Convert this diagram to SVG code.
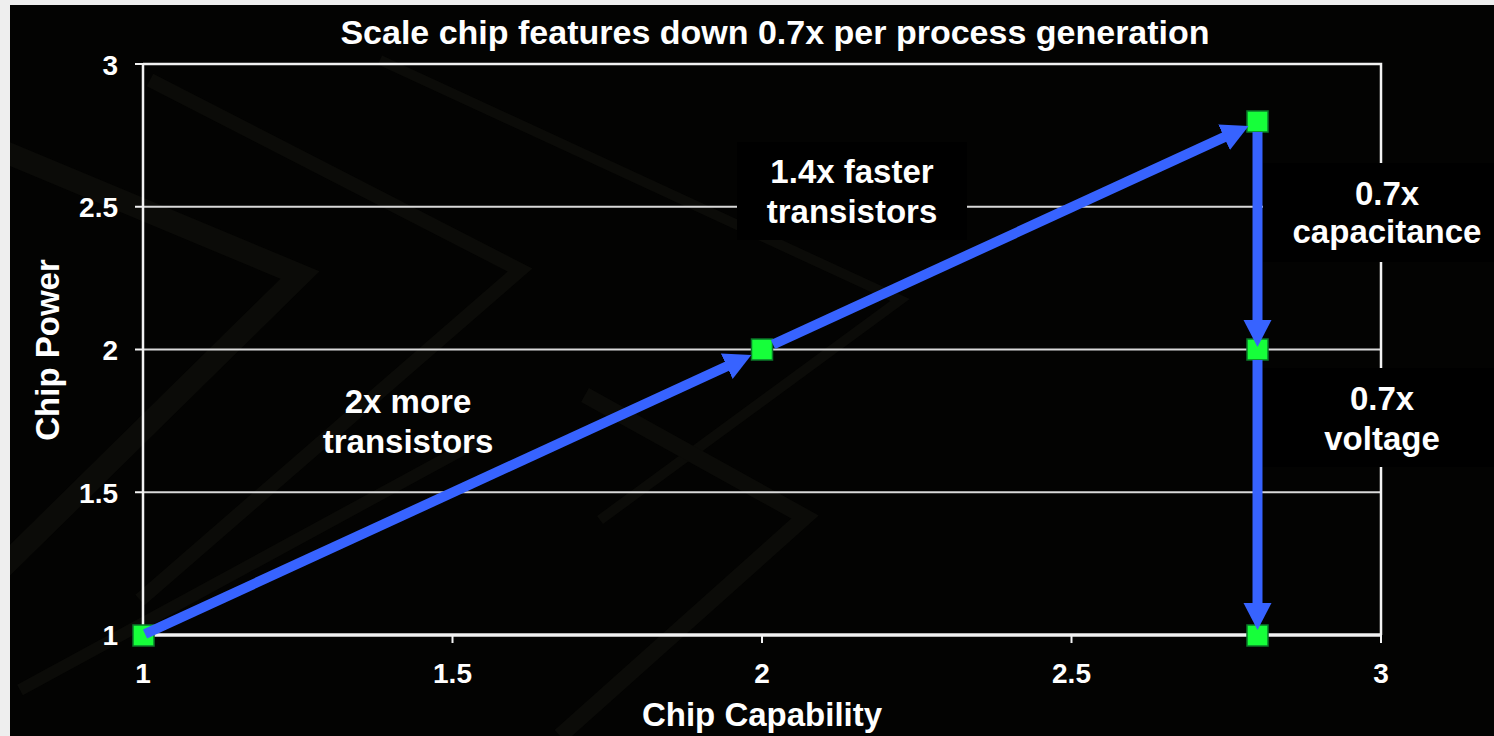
<svg xmlns="http://www.w3.org/2000/svg" width="1494" height="736" viewBox="0 0 1494 736">
<style>
text{font-family:"Liberation Sans",Arial,sans-serif;font-weight:bold;fill:#ffffff}
.tick{font-size:28px}
.ylab{text-anchor:end}
.xlab{text-anchor:middle}
.lbl{font-size:33px;text-anchor:middle}
.grid{stroke:#d9d9d9;stroke-width:2;fill:none}
.axis{stroke:#f2f2f2;fill:none}
.ghost{fill:none;stroke:#0b0b08;stroke-linejoin:miter}
.conn{stroke:#3763ff;stroke-width:10;fill:none;marker-end:url(#head)}
.pt{fill:#16ff3a;stroke:#0b7a2a;stroke-width:1.5}
.box{fill:#000000}
</style>
<defs>
<marker id="head" markerUnits="userSpaceOnUse" markerWidth="28" markerHeight="30" refX="2" refY="14" orient="auto">
<path d="M0,0 L27,14 L0,28 z" fill="#3763ff"/>
</marker>
<clipPath id="bgclip"><rect x="10" y="5" width="1484" height="731"/></clipPath>
</defs>
<rect x="0" y="0" width="1494" height="736" fill="#eeeeee"/>
<rect x="10" y="5" width="1484" height="731" fill="#030302"/>
<g id="background" clip-path="url(#bgclip)">
<path class="ghost" stroke-width="22" d="M0,150 L300,275 L0,570"/>
<path class="ghost" stroke-width="14" d="M150,80 L520,270 L140,600"/>
<path class="ghost" stroke-width="10" d="M380,60 L900,300 L600,520"/>
<path class="ghost" stroke-width="16" d="M585,395 L805,517 L560,736"/>
<path class="ghost" stroke-width="12" d="M20,690 L480,440"/>
</g>
<g id="plot-frame">
<line class="grid" x1="143" y1="206.75" x2="1381" y2="206.75"/>
<line class="grid" x1="143" y1="349.5" x2="1381" y2="349.5"/>
<line class="grid" x1="143" y1="492.25" x2="1381" y2="492.25"/>
<polyline class="axis" stroke-width="2.5" points="143,64 1381,64 1381,635"/>
<line class="axis" stroke-width="2.5" x1="143" y1="64" x2="143" y2="637"/>
<line class="axis" stroke-width="3.5" x1="141" y1="635" x2="1382" y2="635"/>
<g class="axis" stroke-width="2">
<line x1="135" y1="64" x2="143" y2="64"/>
<line x1="135" y1="206.75" x2="143" y2="206.75"/>
<line x1="135" y1="349.5" x2="143" y2="349.5"/>
<line x1="135" y1="492.25" x2="143" y2="492.25"/>
<line x1="135" y1="635" x2="143" y2="635"/>
<line x1="143" y1="635" x2="143" y2="643"/>
<line x1="452.5" y1="635" x2="452.5" y2="643"/>
<line x1="762" y1="635" x2="762" y2="643"/>
<line x1="1071.5" y1="635" x2="1071.5" y2="643"/>
<line x1="1381" y1="635" x2="1381" y2="643"/>
</g>
</g>
<g id="tick-labels">
<text class="tick ylab" x="118" y="75">3</text>
<text class="tick ylab" x="118" y="217">2.5</text>
<text class="tick ylab" x="118" y="360">2</text>
<text class="tick ylab" x="118" y="503">1.5</text>
<text class="tick ylab" x="118" y="645">1</text>
<text class="tick xlab" x="143" y="683">1</text>
<text class="tick xlab" x="452.5" y="683">1.5</text>
<text class="tick xlab" x="762" y="683">2</text>
<text class="tick xlab" x="1071.5" y="683">2.5</text>
<text class="tick xlab" x="1381" y="683">3</text>
</g>
<g id="title"><text x="775" y="44" font-size="34" text-anchor="middle">Scale chip features down 0.7x per process generation</text></g>
<g id="x-axis-title"><text x="762" y="726" font-size="33" text-anchor="middle">Chip Capability</text></g>
<g id="y-axis-title"><text transform="translate(59,350) rotate(-90)" font-size="33" text-anchor="middle">Chip Power</text></g>
<g id="label-faster">
<rect class="box" x="737" y="142" width="230" height="98"/>
<text class="lbl" x="852" y="183">1.4x faster</text>
<text class="lbl" x="852" y="223">transistors</text>
</g>
<g id="label-capacitance">
<rect class="box" x="1263" y="163" width="231" height="99"/>
<text class="lbl" x="1387" y="205">0.7x</text>
<text class="lbl" x="1387" y="243">capacitance</text>
</g>
<g id="label-voltage">
<rect class="box" x="1263" y="368" width="231" height="99"/>
<text class="lbl" x="1382" y="410">0.7x</text>
<text class="lbl" x="1382" y="450">voltage</text>
</g>
<g id="label-more">
<text class="lbl" x="408" y="413">2x more</text>
<text class="lbl" x="408" y="453">transistors</text>
</g>
<g id="p1"><rect class="pt" x="133" y="625" width="21" height="21"/></g>
<g id="p2"><rect class="pt" x="751.5" y="339" width="21" height="21"/></g>
<g id="p3"><rect class="pt" x="1247" y="111" width="21" height="21"/></g>
<g id="p4"><rect class="pt" x="1247" y="339" width="21" height="21"/></g>
<g id="p5"><rect class="pt" x="1247" y="625" width="21" height="21"/></g>
<g id="connectors">
<path class="conn" d="M145,634 L728.6,365.5"/>
<path class="conn" d="M773,344.5 L1225.9,136.4"/>
<path class="conn" d="M1257.5,132 L1257.5,322"/>
<path class="conn" d="M1257.5,360 L1257.5,605"/>
</g>
</svg>
